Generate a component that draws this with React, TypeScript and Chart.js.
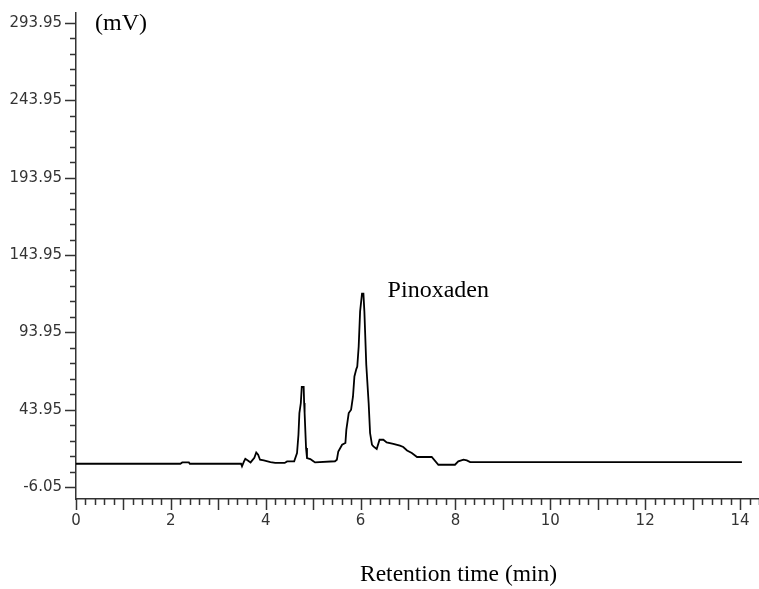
import React, { useEffect, useRef } from 'react';
import { Chart, registerables } from 'chart.js';

Chart.register(...registerables);

// Retention time (min)
const retentionTimes = [
  0, 2.2, 2.24, 2.38, 2.4, 3.48, 3.5, 3.54, 3.57, 3.63,
  3.68, 3.76, 3.8, 3.84, 3.88, 3.96, 4.1, 4.2, 4.4, 4.45,
  4.6, 4.66, 4.69, 4.71, 4.74, 4.76, 4.8, 4.81, 4.82, 4.85,
  4.87, 4.94, 4.99, 5.04, 5.46, 5.5, 5.53, 5.61, 5.68, 5.7,
  5.75, 5.8, 5.84, 5.87, 5.91, 5.93, 5.96, 5.99, 6.03, 6.06,
  6.08, 6.12, 6.17, 6.2, 6.24, 6.27, 6.34, 6.4, 6.48, 6.55,
  6.69, 6.83, 6.9, 6.98, 7.08, 7.19, 7.5, 7.64, 7.99, 8.06,
  8.17, 8.24, 8.31, 14.04,
];

// Detector signal (mV)
const signalMv = [
  9.0, 9.0, 9.85, 9.85, 9.0, 9.0, 7.3, 10.3, 12.2, 10.95,
  9.85, 12.9, 16.3, 14.8, 11.6, 11.15, 10.1, 9.5, 9.5, 10.5,
  10.5, 15.9, 27.75, 41.8, 48.25, 58.6, 58.6, 48.25, 41.8, 19.2,
  12.7, 12.05, 10.95, 9.85, 10.6, 11.6, 16.95, 21.3, 22.4, 31.0,
  41.8, 43.9, 52.5, 65.45, 70.2, 71.9, 84.8, 107.5, 118.9, 118.9,
  107.5, 73.0, 48.25, 28.85, 21.3, 20.2, 18.5, 24.5, 24.5, 22.8,
  21.9, 20.65, 19.8, 17.6, 15.9, 13.35, 13.35, 8.35, 8.35, 10.5,
  11.6, 11.15, 10.1, 10.1,
];

const xTickValues = [0, 2, 4, 6, 8, 10, 12, 14];
const yTickValues = [-6.05, 43.95, 93.95, 143.95, 193.95, 243.95, 293.95];

const xTitle = 'Retention time (min)';
const yUnit = '(mV)';
const peakName = 'Pinoxaden';

const X_MIN = 0;
const X_MAX = 14.4;
const Y_MIN = -13.8;
const Y_MAX = 300.4;

const decorPlugin = {
  id: 'decor',
  afterDraw(chart: any) {
    const { ctx, chartArea } = chart;
    const xs = chart.scales.x;
    const ys = chart.scales.y;
    ctx.save();
    ctx.strokeStyle = '#333';
    ctx.lineWidth = 1.5;
    ctx.beginPath();
    // x tick marks every 0.2 min, longer at integers
    for (let i = 0; i * 0.2 <= X_MAX + 1e-9; i++) {
      const v = i * 0.2;
      const px = Math.round(xs.getPixelForValue(v)) + 0.5;
      const len = i % 5 === 0 ? 11 : 6;
      ctx.moveTo(px, chartArea.bottom);
      ctx.lineTo(px, chartArea.bottom + len);
    }
    // y tick marks every 10 mV, longer at labelled ones
    for (let i = 0; i <= 30; i++) {
      const v = yTickValues[0] + i * 10;
      const py = Math.round(ys.getPixelForValue(v)) + 0.5;
      const len = i % 5 === 0 ? 11 : 6;
      ctx.moveTo(chartArea.left - len, py);
      ctx.lineTo(chartArea.left, py);
    }
    ctx.stroke();

    ctx.fillStyle = '#000';
    ctx.textBaseline = 'alphabetic';
    ctx.textAlign = 'left';
    ctx.font = '24px "Liberation Serif"';
    ctx.fillText(yUnit, chartArea.left + 19, chartArea.top + 16.5);
    ctx.fillText(peakName, xs.getPixelForValue(6.57), ys.getPixelForValue(116.8));
    ctx.font = '23.5px "Liberation Serif"';
    ctx.fillText(xTitle, chartArea.left + 284, chartArea.bottom + 82);
    ctx.restore();
  },
};

export default function App() {
  const ref = useRef<HTMLCanvasElement>(null);

  useEffect(() => {
    if (!ref.current) return;
    const points = retentionTimes.map((t, i) => ({ x: t, y: signalMv[i] }));
    const chart = new Chart(ref.current, {
      type: 'line',
      data: {
        datasets: [
          {
            data: points,
            borderColor: '#000',
            borderWidth: 1.8,
            pointRadius: 0,
            tension: 0,
            fill: false,
          },
        ],
      },
      options: {
        animation: false,
        responsive: false,
        maintainAspectRatio: false,
        layout: { padding: { top: 13, left: 0, right: 0, bottom: 0 } },
        plugins: {
          legend: { display: false },
          tooltip: { enabled: false },
        },
        scales: {
          x: {
            type: 'linear',
            min: X_MIN,
            max: X_MAX,
            afterFit: (s: any) => {
              s.height = 90;
              s.paddingLeft = 0;
              s.paddingRight = 0;
            },
            afterBuildTicks: (s: any) => {
              s.ticks = xTickValues.map((v) => ({ value: v }));
            },
            grid: { display: false, drawTicks: false },
            border: { display: true, color: '#333', width: 1.5 },
            ticks: {
              autoSkip: false,
              maxRotation: 0,
              padding: 13,
              color: '#333',
              font: { family: 'DejaVu Sans', size: 15 },
              callback: (v: any) => String(v),
            },
          },
          y: {
            type: 'linear',
            min: Y_MIN,
            max: Y_MAX,
            afterFit: (s: any) => {
              s.width = 76;
              s.paddingTop = 0;
              s.paddingBottom = 0;
            },
            afterBuildTicks: (s: any) => {
              s.ticks = yTickValues.map((v) => ({ value: v }));
            },
            grid: { display: false, drawTicks: false },
            border: { display: true, color: '#333', width: 1.5 },
            ticks: {
              autoSkip: false,
              padding: 14,
              color: '#333',
              font: { family: 'DejaVu Sans', size: 15 },
              callback: (v: any) => Number(v).toFixed(2),
            },
          },
        },
      },
      plugins: [decorPlugin],
    });
    return () => chart.destroy();
  }, []);

  return (
    <div style={{ position: 'absolute', left: 0, top: 0, width: 759, height: 589, background: '#fff' }}>
      <canvas ref={ref} width={759} height={589} style={{ display: 'block' }} />
    </div>
  );
}
